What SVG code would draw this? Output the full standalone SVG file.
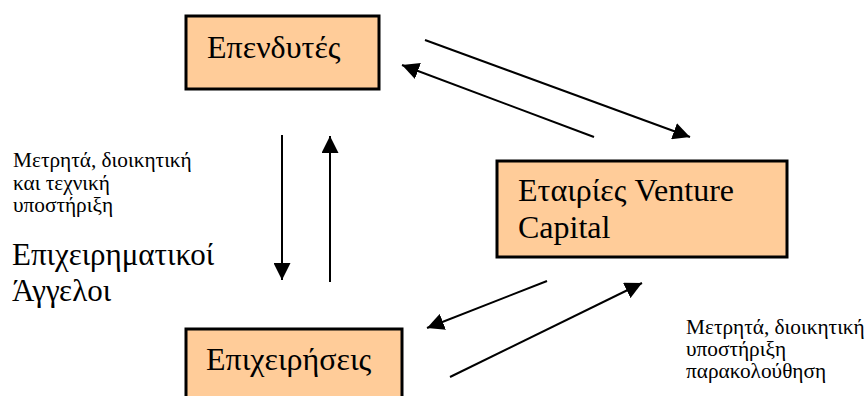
<svg xmlns="http://www.w3.org/2000/svg" width="867" height="396" viewBox="0 0 867 396">
<style>
.box{fill:#FFCC99;stroke:#000;stroke-width:3}
text{font-family:'Liberation Serif','Times New Roman','DejaVu Serif',serif;fill:#000}
.big{font-size:32px}
.angel{font-size:31px}
.small{font-size:21.3px}
.conn line{stroke:#000;stroke-width:2;marker-end:url(#ah)}
</style>
<defs>
<marker id="ah" markerUnits="userSpaceOnUse" markerWidth="19" markerHeight="17" refX="17" refY="8.5" orient="auto">
<path d="M0,0 L17,8.5 L0,17 Z" fill="#000"/>
</marker>
</defs>
<rect width="867" height="396" fill="#fff"/>
<g id="investors">
<rect class="box" x="186" y="16" width="193" height="73"/>
<text class="big" x="207" y="58">Επενδυτές</text>
</g>
<g id="vc">
<rect class="box" x="497" y="161" width="290" height="96"/>
<text class="big" x="518" y="201">Εταιρίες Venture</text>
<text class="big" x="518" y="238">Capital</text>
</g>
<g id="firms">
<rect class="box" x="186" y="329" width="216" height="80"/>
<text class="big" x="206" y="370">Επιχειρήσεις</text>
</g>
<g id="labels">
<text class="small" x="13" y="167">Μετρητά, διοικητική</text>
<text class="small" x="13" y="190">και τεχνική</text>
<text class="small" x="13" y="212">υποστήριξη</text>
<text class="angel" x="12" y="265">Επιχειρηματικοί</text>
<text class="angel" x="12" y="301">Άγγελοι</text>
<text class="small" x="686" y="334">Μετρητά, διοικητική</text>
<text class="small" x="686" y="356">υποστήριξη</text>
<text class="small" x="686" y="378">παρακολούθηση</text>
</g>
<g id="connectors" class="conn">
<line x1="425" y1="40" x2="690" y2="137"/>
<line x1="594" y1="137" x2="402" y2="65"/>
<line x1="282" y1="135" x2="282" y2="280"/>
<line x1="330" y1="282" x2="330" y2="136"/>
<line x1="547" y1="281" x2="427" y2="328"/>
<line x1="450" y1="377" x2="642" y2="283"/>
</g>
</svg>
